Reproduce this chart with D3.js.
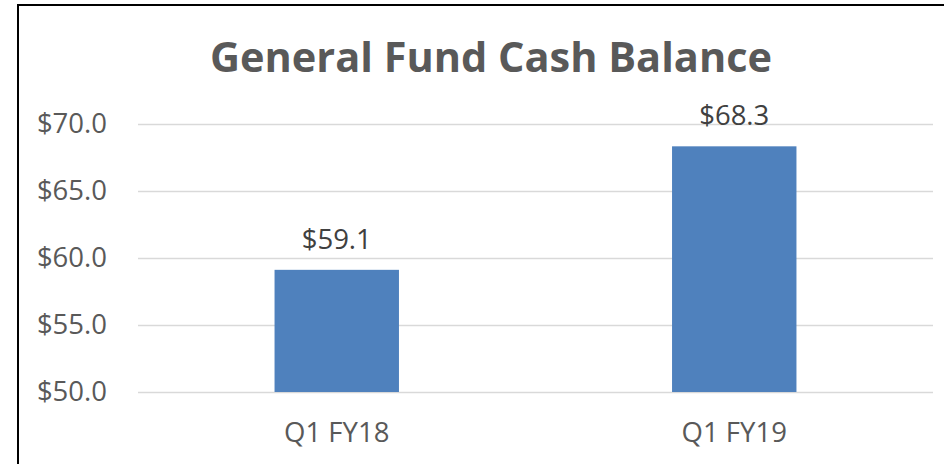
<!DOCTYPE html>
<html>
<head>
<meta charset="utf-8">
<script src="https://cdn.jsdelivr.net/npm/d3@7"></script>
<style>
  body { margin: 0; background: #fff; }
  svg { display: block; font-family: "Open Sans", sans-serif; }
</style>
</head>
<body>
<div id="chart"></div>
<script>
// chart data
var categories = ["Q1 FY18", "Q1 FY19"];
var balances = [59.1, 68.3];
var yTicks = [50, 55, 60, 65, 70];
var title = "General Fund Cash Balance";

var W = 944, H = 464;

var svg = d3.select("#chart")
    .append("svg")
    .attr("width", W)
    .attr("height", H);

// outer frame (runs off the right and bottom edge)
svg.append("rect")
    .attr("x", 18).attr("y", 5)
    .attr("width", 1000).attr("height", 600)
    .attr("fill", "#fff")
    .attr("stroke", "#000")
    .attr("stroke-width", 2);

var x = d3.scaleBand()
    .domain(categories)
    .range([138, 933])
    .paddingInner(0.687)
    .paddingOuter(0.3435);

var y = d3.scaleLinear()
    .domain([50, 70])
    .range([392, 123.5]);

// gridlines
svg.append("g")
    .selectAll("line")
    .data(yTicks)
    .enter().append("line")
    .attr("x1", 138).attr("x2", 933)
    .attr("y1", function(d) { return Math.round(y(d)) + 0.5; })
    .attr("y2", function(d) { return Math.round(y(d)) + 0.5; })
    .attr("stroke", "#d9d9d9")
    .attr("stroke-width", 1.5);

// y axis labels
var yAxis = d3.axisLeft(y)
    .tickValues(yTicks)
    .tickSize(0)
    .tickPadding(0)
    .tickFormat(function(d) { return "$" + d3.format(".1f")(d); });

var gy = svg.append("g")
    .attr("transform", "translate(107,0)")
    .call(yAxis);
gy.select(".domain").remove();
gy.selectAll("text")
    .attr("fill", "#595959")
    .style("font-size", "27.5px")
    .style("font-family", "'Open Sans', sans-serif");

// bars
svg.append("g")
    .selectAll("rect")
    .data(balances)
    .enter().append("rect")
    .attr("x", function(d, i) { return x(categories[i]); })
    .attr("width", x.bandwidth())
    .attr("y", function(d) { return y(d); })
    .attr("height", function(d) { return y(50) - y(d); })
    .attr("fill", "#4f81bd");

// data labels
svg.append("g")
    .selectAll("text")
    .data(balances)
    .enter().append("text")
    .attr("x", function(d, i) { return x(categories[i]) + x.bandwidth() / 2; })
    .attr("y", function(d) { return y(d) - 21; })
    .attr("text-anchor", "middle")
    .attr("fill", "#404040")
    .style("font-size", "27.5px")
    .text(function(d) { return "$" + d3.format(".1f")(d); });

// x axis labels
var xAxis = d3.axisBottom(x).tickSize(0).tickPadding(0);
var gx = svg.append("g")
    .attr("transform", "translate(0,422)")
    .call(xAxis);
gx.select(".domain").remove();
gx.selectAll("text")
    .attr("fill", "#595959")
    .style("font-size", "27.5px")
    .style("font-family", "'Open Sans', sans-serif");

// title
svg.append("text")
    .attr("x", 491)
    .attr("y", 72)
    .attr("text-anchor", "middle")
    .attr("fill", "#595959")
    .style("font-size", "41.5px")
    .style("font-weight", "bold")
    .text(title);
</script>
</body>
</html>
